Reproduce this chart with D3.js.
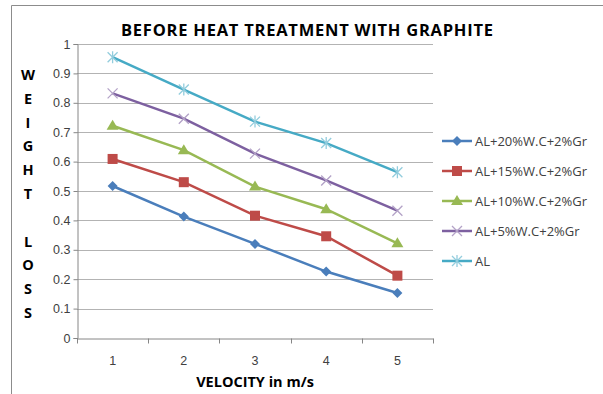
<!DOCTYPE html>
<html lang="en">
<head>
  <meta charset="UTF-8"/>
  <title>Before heat treatment with graphite</title>
  <script src="https://d3js.org/d3.v7.min.js"></script>
  <style>
    body { margin: 0; background: #fff; }
    svg { font-family: "Open Sans", Arial, sans-serif; }
    .tick text { fill: #404040; font-size: 12.5px; }
    .legend text { fill: #404040; font-size: 13px; }
  </style>
</head>
<body>
<svg width="603" height="394"></svg>
<script>
  const velocities = [1, 2, 3, 4, 5];
  const yTicks = [0, 0.1, 0.2, 0.3, 0.4, 0.5, 0.6, 0.7, 0.8, 0.9, 1];
  const seriesNames = ['AL+20%W.C+2%Gr', 'AL+15%W.C+2%Gr', 'AL+10%W.C+2%Gr', 'AL+5%W.C+2%Gr', 'AL'];
  const wc20 = [0.517, 0.413, 0.32, 0.226, 0.153];
  const wc15 = [0.609, 0.53, 0.416, 0.346, 0.212];
  const wc10 = [0.722, 0.639, 0.515, 0.438, 0.322];
  const wc5 = [0.832, 0.746, 0.627, 0.536, 0.433];
  const al = [0.955, 0.845, 0.736, 0.663, 0.564];

  const colors = ['#4a7ebb', '#be4b48', '#98b954', '#7d60a0', '#46aac5'];
  const symbols = ['diamond', 'square', 'triangle', 'x', 'star'];
  const series = [wc20, wc15, wc10, wc5, al].map((v, i) => ({
    name: seriesNames[i], values: v, color: colors[i], symbol: symbols[i]
  }));

  const svg = d3.select('svg');

  // outer chart frame (only top and left edges visible)
  svg.append('path')
    .attr('d', 'M11.5,394 V5.5 H603')
    .attr('fill', 'none')
    .attr('stroke', '#8c8c8c');

  const plotL = 77, plotR = 433, plotT = 44, plotB = 338;

  const x = d3.scaleBand().domain(velocities).range([plotL, plotR]);
  const y = d3.scaleLinear().domain([0, 1]).range([plotB, plotT]);

  // gridlines
  svg.append('g')
    .selectAll('line')
    .data(yTicks.slice(1))
    .enter()
    .append('line')
    .attr('x1', plotL).attr('x2', plotR)
    .attr('y1', d => Math.round(y(d)) + 0.5)
    .attr('y2', d => Math.round(y(d)) + 0.5)
    .attr('stroke', '#b3b3b3');

  // y axis
  const yAxis = svg.append('g')
    .attr('transform', `translate(${plotL + 0.5},0)`)
    .call(d3.axisLeft(y).tickValues(yTicks).tickSize(4).tickPadding(3).tickFormat(d3.format('')));
  yAxis.select('.domain').attr('stroke', '#868686');
  yAxis.selectAll('.tick line').attr('stroke', '#868686');

  // x axis with ticks between categories
  const xAxis = svg.append('g')
    .attr('transform', `translate(0,${plotB + 0.5})`)
    .call(d3.axisBottom(x).tickSize(0).tickPadding(18));
  xAxis.select('.domain').attr('stroke', '#868686');
  xAxis.selectAll('.tick line').remove();
  xAxis.selectAll('.bound')
    .data(velocities.map(v => x(v)).concat([plotR]))
    .enter()
    .append('line')
    .attr('x1', d => Math.round(d) + 0.5).attr('x2', d => Math.round(d) + 0.5)
    .attr('y1', 0).attr('y2', 5)
    .attr('stroke', '#868686');

  const cx = v => x(v) + x.bandwidth() / 2;
  const line = d3.line().x((d, i) => cx(velocities[i])).y(d => y(d));

  function drawMarker(g, sym, color, px, py) {
    if (sym === 'diamond') {
      g.append('path').attr('d', `M${px},${py - 5}L${px + 5},${py}L${px},${py + 5}L${px - 5},${py}Z`).attr('fill', color);
    } else if (sym === 'square') {
      g.append('rect').attr('x', px - 5).attr('y', py - 5).attr('width', 10).attr('height', 10).attr('fill', color);
    } else if (sym === 'triangle') {
      g.append('path').attr('d', `M${px},${py - 6}L${px + 6},${py + 4}L${px - 6},${py + 4}Z`).attr('fill', color);
    } else if (sym === 'x') {
      g.append('path').attr('d', `M${px - 5},${py - 5}L${px + 5},${py + 5}M${px - 5},${py + 5}L${px + 5},${py - 5}`)
        .attr('stroke', '#b3a2c7').attr('stroke-width', 1.3);
    } else {
      g.append('path').attr('d', `M${px - 5},${py - 5}L${px + 5},${py + 5}M${px - 5},${py + 5}L${px + 5},${py - 5}M${px},${py - 6}L${px},${py + 6}`)
        .attr('stroke', '#93cddd').attr('stroke-width', 1.3);
    }
  }

  series.forEach(s => {
    svg.append('path')
      .datum(s.values)
      .attr('d', line)
      .attr('fill', 'none')
      .attr('stroke', s.color)
      .attr('stroke-width', 2.5);
    const g = svg.append('g');
    s.values.forEach((v, i) => drawMarker(g, s.symbol, s.color, cx(velocities[i]), y(v)));
  });

  // legend
  const legend = svg.append('g').attr('class', 'legend');
  series.forEach((s, i) => {
    const ly = 141 + i * 30;
    legend.append('line')
      .attr('x1', 442).attr('x2', 472).attr('y1', ly).attr('y2', ly)
      .attr('stroke', s.color).attr('stroke-width', 2.5);
    drawMarker(legend, s.symbol, s.color, 457, ly);
    legend.append('text').attr('x', 475).attr('y', ly + 4.5).text(s.name);
  });

  // title
  svg.append('text')
    .attr('x', 307).attr('y', 36)
    .attr('text-anchor', 'middle')
    .attr('font-weight', 'bold')
    .attr('font-size', 16.5)
    .attr('textLength', 372)
    .attr('lengthAdjust', 'spacing')
    .attr('fill', '#000')
    .text('BEFORE HEAT TREATMENT WITH GRAPHITE');

  svg.append('text')
    .attr('x', 255).attr('y', 387)
    .attr('text-anchor', 'middle')
    .attr('font-weight', 'bold')
    .attr('font-size', 14.5)
    .attr('fill', '#000')
    .text('VELOCITY in m/s');

  // vertical y title, letter by letter
  const yTitle = 'WEIGHT LOSS'.split('');
  svg.append('g')
    .selectAll('text')
    .data(yTitle)
    .enter()
    .append('text')
    .attr('x', 28)
    .attr('y', (d, i) => 80 + i * 23.8)
    .attr('text-anchor', 'middle')
    .attr('font-weight', 'bold')
    .attr('font-size', 14.5)
    .attr('fill', '#000')
    .text(d => d);
</script>
</body>
</html>
